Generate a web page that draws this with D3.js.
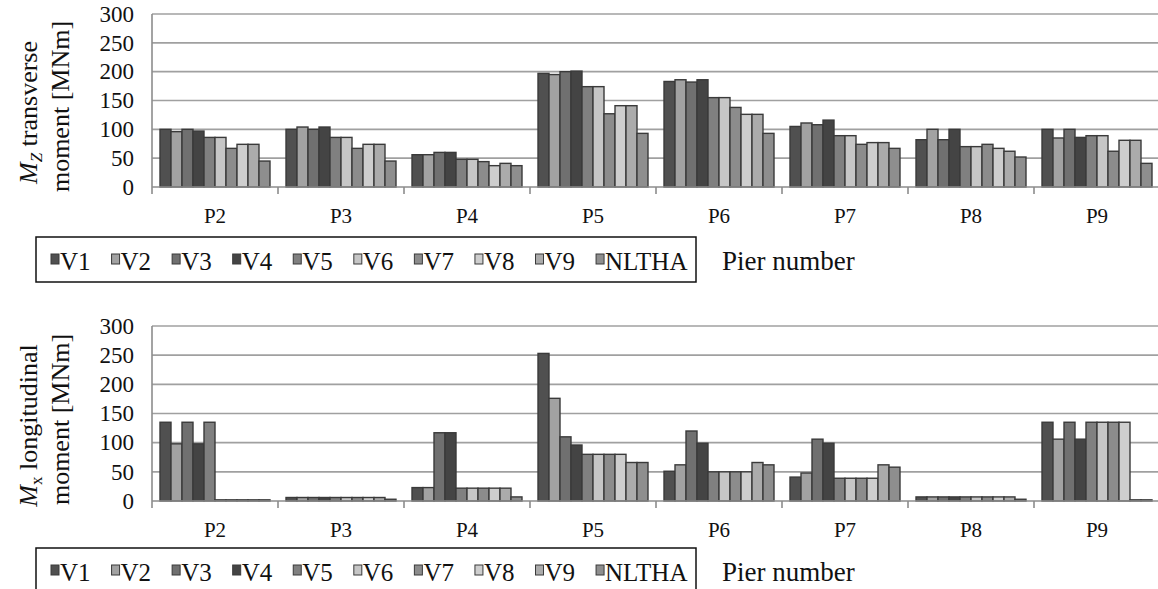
<!DOCTYPE html>
<html>
<head>
<meta charset="utf-8">
<script src="https://cdn.jsdelivr.net/npm/d3@7"></script>
<style>
  body { margin: 0; background: #fff; }
</style>
</head>
<body>
<svg id="chart" width="1158" height="589"></svg>
<script>
// piers and load cases
const piers = ["P2", "P3", "P4", "P5", "P6", "P7", "P8", "P9"];
const series = ["V1", "V2", "V3", "V4", "V5", "V6", "V7", "V8", "V9", "NLTHA"];
const yTicks = [0, 50, 100, 150, 200, 250, 300];

// Mz transverse moment [MNm], one row per pier (V1..V9, NLTHA)
const mzP2 = [100, 96, 100, 97, 86, 86, 67, 74, 74, 45];
const mzP3 = [100, 104, 100, 104, 86, 86, 67, 74, 74, 45];
const mzP4 = [56, 56, 60, 60, 48, 48, 44, 37, 41, 37];
const mzP5 = [197, 195, 200, 201, 174, 174, 127, 141, 141, 93];
const mzP6 = [183, 186, 182, 186, 155, 155, 138, 126, 126, 93];
const mzP7 = [105, 111, 108, 116, 89, 89, 74, 77, 77, 67];
const mzP8 = [82, 100, 82, 100, 70, 70, 74, 67, 62, 52];
const mzP9 = [100, 85, 100, 86, 89, 89, 62, 81, 81, 41];

// Mx longitudinal moment [MNm]
const mxP2 = [135, 98, 135, 98, 135, 2, 2, 2, 2, 2];
const mxP3 = [6, 6, 6, 6, 6, 6, 6, 6, 6, 3];
const mxP4 = [23, 23, 117, 117, 22, 22, 22, 22, 22, 7];
const mxP5 = [253, 176, 110, 96, 80, 80, 80, 80, 66, 66];
const mxP6 = [51, 62, 120, 99, 50, 50, 50, 50, 66, 62];
const mxP7 = [41, 48, 106, 99, 39, 39, 39, 39, 62, 58];
const mxP8 = [7, 7, 7, 7, 7, 7, 7, 7, 7, 3];
const mxP9 = [135, 106, 135, 106, 135, 135, 135, 135, 2, 2];

const mzRows = [mzP2, mzP3, mzP4, mzP5, mzP6, mzP7, mzP8, mzP9];
const mxRows = [mxP2, mxP3, mxP4, mxP5, mxP6, mxP7, mxP8, mxP9];

const color = d3.scaleOrdinal()
  .domain(series)
  .range(["#505050", "#a2a2a2", "#707070", "#444444", "#808080",
          "#c6c6c6", "#8c8c8c", "#cecece", "#ababab", "#8e8e8e"]);

const FONT = '"Liberation Serif"';
const svg = d3.select("#chart");
const left = 152, right = 1160;

const x0 = d3.scaleBand()
  .domain(piers)
  .range([left, right])
  .paddingInner(0.127)
  .paddingOuter(0.0635);

const x1 = d3.scaleBand()
  .domain(series)
  .range([0, x0.bandwidth()]);

function label(sel, size) {
  return sel.style("font-family", FONT).style("font-size", size + "px").attr("fill", "#111");
}

function drawPanel(rows, y0, y300, titleMain, sub, subItalic, titleRest, legendTop) {
  const y = d3.scaleLinear().domain([0, 300]).range([y0, y300]);
  const g = svg.append("g");

  // gridlines
  g.selectAll("line.grid")
    .data(yTicks.slice(1))
    .enter()
    .append("line")
    .attr("x1", left).attr("x2", 1158)
    .attr("y1", d => y(d)).attr("y2", d => y(d))
    .attr("stroke", "#a0a0a0")
    .attr("stroke-width", 1.6);

  // y tick labels
  label(g.selectAll("text.ytick")
    .data(yTicks)
    .enter()
    .append("text")
    .attr("x", 134)
    .attr("y", d => y(d))
    .attr("dy", "0.34em")
    .attr("text-anchor", "end")
    .text(d => d), 23);

  // bars
  const data = piers.map((p, i) => ({ pier: p, values: rows[i] }));
  g.append("g")
    .selectAll("g")
    .data(data)
    .enter()
    .append("g")
    .attr("transform", d => `translate(${x0(d.pier)},0)`)
    .selectAll("rect")
    .data(d => series.map((s, j) => ({ key: s, value: d.values[j] })))
    .enter()
    .append("rect")
    .attr("x", d => x1(d.key))
    .attr("y", d => y(d.value))
    .attr("width", x1.bandwidth())
    .attr("height", d => y0 - y(d.value))
    .attr("fill", d => color(d.key))
    .attr("stroke", "#3a3a3a")
    .attr("stroke-width", 1.4);

  // axes
  g.append("line")
    .attr("x1", left).attr("x2", left)
    .attr("y1", y300).attr("y2", y0 + 7)
    .attr("stroke", "#8c8c8c").attr("stroke-width", 1.6);
  g.append("line")
    .attr("x1", left).attr("x2", 1158)
    .attr("y1", y0).attr("y2", y0)
    .attr("stroke", "#8c8c8c").attr("stroke-width", 1.6);
  const step = x0.step();
  g.selectAll("line.xtick")
    .data(piers.slice(1))
    .enter()
    .append("line")
    .attr("x1", (d, i) => left + step * (i + 1))
    .attr("x2", (d, i) => left + step * (i + 1))
    .attr("y1", y0).attr("y2", y0 + 7)
    .attr("stroke", "#8c8c8c").attr("stroke-width", 1.6);

  // pier labels
  label(g.selectAll("text.pier")
    .data(piers)
    .enter()
    .append("text")
    .attr("x", d => x0(d) + x0.bandwidth() / 2)
    .attr("y", y0 + 36)
    .attr("text-anchor", "middle")
    .text(d => d), 21);

  // y axis title, two lines
  const cy = (y0 + y300) / 2 + 12;
  const t1 = label(g.append("text")
    .attr("transform", `translate(37,${cy}) rotate(-90)`)
    .attr("text-anchor", "middle"), 26);
  t1.append("tspan").style("font-style", "italic").text(titleMain);
  t1.append("tspan")
    .attr("dy", 5)
    .style("font-size", "17px")
    .style("font-style", subItalic ? "italic" : "normal")
    .text(sub);
  t1.append("tspan").attr("dy", -5).text(" " + titleRest);
  label(g.append("text")
    .attr("transform", `translate(69,${cy - 6}) rotate(-90)`)
    .attr("text-anchor", "middle")
    .text("moment [MNm]"), 26);

  // legend
  const lg = g.append("g");
  lg.append("rect")
    .attr("x", 36).attr("y", legendTop)
    .attr("width", 660).attr("height", 45)
    .attr("fill", "none")
    .attr("stroke", "#111")
    .attr("stroke-width", 1.5);
  let cx = 51;
  series.forEach(s => {
    lg.append("rect")
      .attr("x", cx).attr("y", legendTop + 17)
      .attr("width", 8).attr("height", 10)
      .attr("fill", color(s))
      .attr("stroke", "#3a3a3a")
      .attr("stroke-width", 1);
    const t = label(lg.append("text")
      .attr("x", cx + 9)
      .attr("y", legendTop + 33)
      .text(s), 25);
    cx += 9 + t.node().getComputedTextLength() + 21;
  });

  label(g.append("text")
    .attr("x", 722)
    .attr("y", legendTop + 33)
    .text("Pier number"), 27);
}

drawPanel(mzRows, 187, 14, "M", "Z", true, "transverse", 237);
drawPanel(mxRows, 501, 326, "M", "x", false, "longitudinal", 548);
</script>
</body>
</html>
